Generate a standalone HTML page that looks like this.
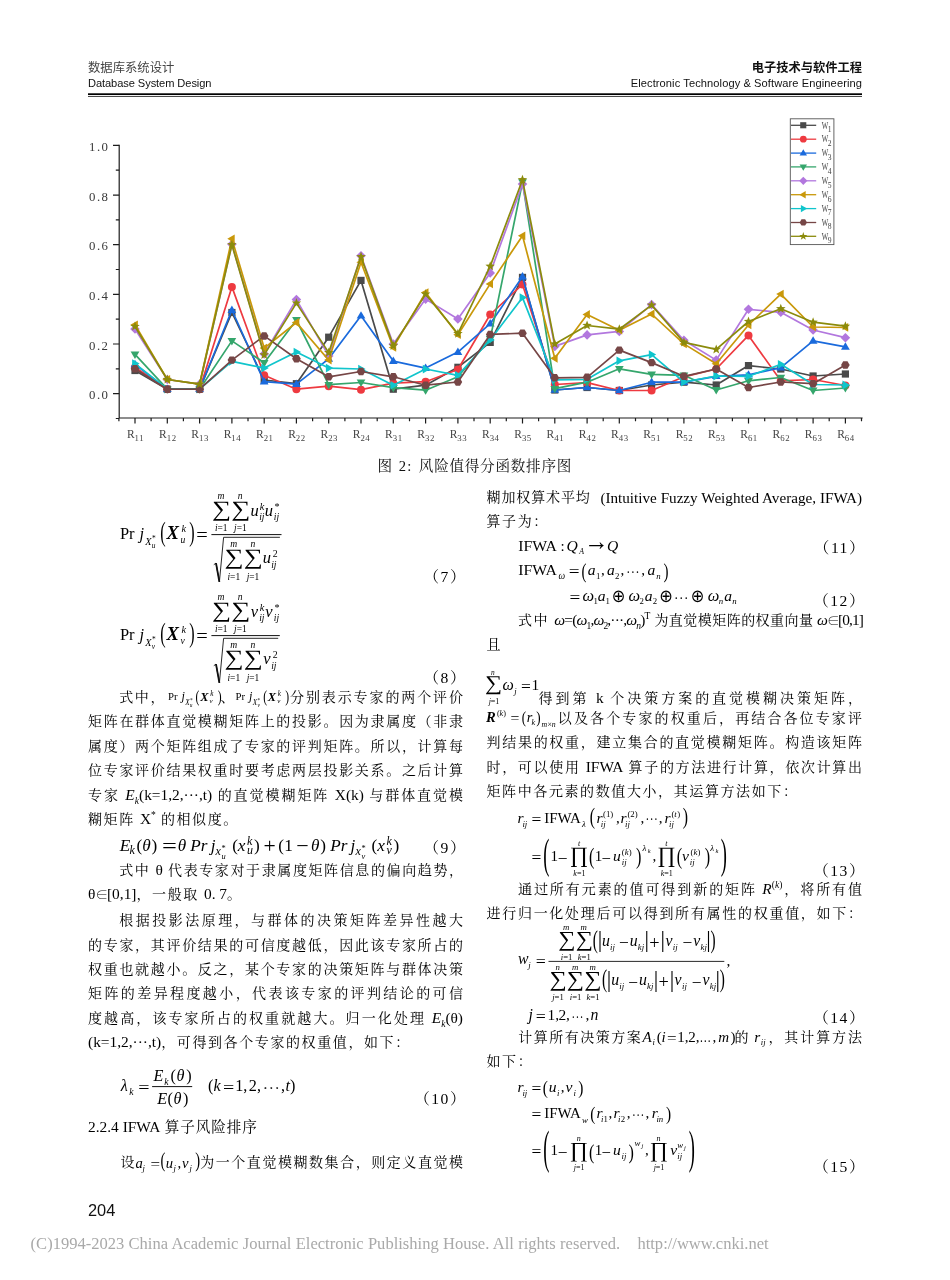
<!DOCTYPE html>
<html lang="zh-CN"><head><meta charset="utf-8"><title>电子技术与软件工程 - 数据库系统设计</title><style>
*{margin:0;padding:0;box-sizing:border-box}
html,body{width:950px;height:1280px;background:#fff;overflow:hidden}
body{position:relative;font-family:"Liberation Serif","Noto Serif CJK SC",serif;color:#000}
.a{position:absolute;white-space:nowrap}
.hs{font-family:"Liberation Sans","Noto Sans CJK SC",sans-serif}
.l{position:absolute;white-space:nowrap;font-size:14.0px;line-height:24px;height:24px;text-align:justify;text-align-last:justify;color:#000}
.l.n{text-align:left;text-align-last:left;letter-spacing:1.6px}
.l *{line-height:0}
.e{font-size:15.4px;letter-spacing:0}
.lc{left:88px;width:375px}
.rc{left:486.5px;width:375.5px}
i,.i{font-style:italic}
.m{position:absolute;white-space:nowrap;font-family:"Liberation Serif","DejaVu Serif",serif;color:#111;line-height:1}
.m i{font-style:italic}
sub,sup{font-size:62%;line-height:0}
.num{position:absolute;white-space:nowrap;font-size:15.6px;line-height:20px;letter-spacing:1.5px}
</style></head><body>

<div class="a hs" style="left:88px;top:60px;font-size:12.35px;line-height:17px;color:#444;font-weight:400">数据库系统设计</div>
<div class="a hs" id="h2" style="left:88px;top:74.5px;font-size:11.1px;line-height:16px;color:#111;letter-spacing:-0.08px">Database System Design</div>
<div class="a hs" style="right:88px;top:60px;font-size:12.25px;line-height:17px;color:#111;font-weight:700">电子技术与软件工程</div>
<div class="a hs" id="h4" style="right:88px;top:74.5px;font-size:11.1px;line-height:16px;color:#111;letter-spacing:0.09px">Electronic Technology &amp; Software Engineering</div>
<svg class="a" width="950" height="110" viewBox="0 0 950 110" style="left:0;top:0"><rect x="88" y="93.3" width="774" height="1.75" fill="#000"/><rect x="88" y="96.0" width="774" height="1.0" fill="#4a4a4a"/></svg>

<svg class="chart" width="950" height="480" viewBox="0 0 950 480" style="position:absolute;left:0;top:0">
<g stroke="#1c1c1c" stroke-width="1.2" fill="none" stroke-linecap="butt">
<path d="M119.2 144.8V418.6M118.6 418H862.6"/>
<path d="M115.8 418.5H119.2M113.0 393.7H119.2M115.8 368.9H119.2M113.0 344.0H119.2M115.8 319.2H119.2M113.0 294.4H119.2M115.8 269.5H119.2M113.0 244.7H119.2M115.8 219.9H119.2M113.0 195.1H119.2M115.8 170.2H119.2M113.0 145.4H119.2M118.9 418V421.2M135.0 418V423.6M151.1 418V421.2M167.3 418V423.6M183.4 418V421.2M199.6 418V423.6M215.7 418V421.2M231.9 418V423.6M248.0 418V421.2M264.2 418V423.6M280.3 418V421.2M296.4 418V423.6M312.6 418V421.2M328.7 418V423.6M344.9 418V421.2M361.0 418V423.6M377.2 418V421.2M393.3 418V423.6M409.5 418V421.2M425.6 418V423.6M441.8 418V421.2M457.9 418V423.6M474.0 418V421.2M490.2 418V423.6M506.3 418V421.2M522.5 418V423.6M538.6 418V421.2M554.8 418V423.6M570.9 418V421.2M587.1 418V423.6M603.2 418V421.2M619.3 418V423.6M635.5 418V421.2M651.6 418V423.6M667.8 418V421.2M683.9 418V423.6M700.1 418V421.2M716.2 418V423.6M732.4 418V421.2M748.5 418V423.6M764.7 418V421.2M780.8 418V423.6M796.9 418V421.2M813.1 418V423.6M829.2 418V421.2M845.4 418V423.6M861.5 418V421.2"/>
</g>
<polyline points="135.0,370.5 167.3,389.2 199.6,389.2 231.9,312.5 264.2,380.0 296.4,383.7 328.7,337.2 361.0,280.4 393.3,389.2 425.6,385.2 457.9,367.3 490.2,342.4 522.5,277.4 554.8,390.0 587.1,387.5 619.3,390.5 651.6,385.0 683.9,382.2 716.2,385.0 748.5,365.6 780.8,369.0 813.1,376.0 845.4,374.0" fill="none" stroke="#4a4a4a" stroke-width="1.7" stroke-linejoin="round"/>
<rect x="131.4" y="366.9" width="7.2" height="7.2" fill="#4a4a4a"/><rect x="163.7" y="385.6" width="7.2" height="7.2" fill="#4a4a4a"/><rect x="196.0" y="385.6" width="7.2" height="7.2" fill="#4a4a4a"/><rect x="228.3" y="308.9" width="7.2" height="7.2" fill="#4a4a4a"/><rect x="260.6" y="376.4" width="7.2" height="7.2" fill="#4a4a4a"/><rect x="292.8" y="380.1" width="7.2" height="7.2" fill="#4a4a4a"/><rect x="325.1" y="333.6" width="7.2" height="7.2" fill="#4a4a4a"/><rect x="357.4" y="276.8" width="7.2" height="7.2" fill="#4a4a4a"/><rect x="389.7" y="385.6" width="7.2" height="7.2" fill="#4a4a4a"/><rect x="422.0" y="381.6" width="7.2" height="7.2" fill="#4a4a4a"/><rect x="454.3" y="363.7" width="7.2" height="7.2" fill="#4a4a4a"/><rect x="486.6" y="338.8" width="7.2" height="7.2" fill="#4a4a4a"/><rect x="518.9" y="273.8" width="7.2" height="7.2" fill="#4a4a4a"/><rect x="551.2" y="386.4" width="7.2" height="7.2" fill="#4a4a4a"/><rect x="583.5" y="383.9" width="7.2" height="7.2" fill="#4a4a4a"/><rect x="615.7" y="386.9" width="7.2" height="7.2" fill="#4a4a4a"/><rect x="648.0" y="381.4" width="7.2" height="7.2" fill="#4a4a4a"/><rect x="680.3" y="378.6" width="7.2" height="7.2" fill="#4a4a4a"/><rect x="712.6" y="381.4" width="7.2" height="7.2" fill="#4a4a4a"/><rect x="744.9" y="362.0" width="7.2" height="7.2" fill="#4a4a4a"/><rect x="777.2" y="365.4" width="7.2" height="7.2" fill="#4a4a4a"/><rect x="809.5" y="372.4" width="7.2" height="7.2" fill="#4a4a4a"/><rect x="841.8" y="370.4" width="7.2" height="7.2" fill="#4a4a4a"/>
<polyline points="135.0,367.3 167.3,389.2 199.6,389.2 231.9,286.9 264.2,375.3 296.4,389.2 328.7,386.2 361.0,389.7 393.3,383.2 425.6,381.7 457.9,369.5 490.2,314.5 522.5,284.4 554.8,384.5 587.1,382.7 619.3,390.5 651.6,390.5 683.9,376.8 716.2,369.0 748.5,335.4 780.8,380.8 813.1,379.5 845.4,385.5" fill="none" stroke="#ee3a40" stroke-width="1.7" stroke-linejoin="round"/>
<circle cx="135.0" cy="367.3" r="4.0" fill="#ee3a40"/><circle cx="167.3" cy="389.2" r="4.0" fill="#ee3a40"/><circle cx="199.6" cy="389.2" r="4.0" fill="#ee3a40"/><circle cx="231.9" cy="286.9" r="4.0" fill="#ee3a40"/><circle cx="264.2" cy="375.3" r="4.0" fill="#ee3a40"/><circle cx="296.4" cy="389.2" r="4.0" fill="#ee3a40"/><circle cx="328.7" cy="386.2" r="4.0" fill="#ee3a40"/><circle cx="361.0" cy="389.7" r="4.0" fill="#ee3a40"/><circle cx="393.3" cy="383.2" r="4.0" fill="#ee3a40"/><circle cx="425.6" cy="381.7" r="4.0" fill="#ee3a40"/><circle cx="457.9" cy="369.5" r="4.0" fill="#ee3a40"/><circle cx="490.2" cy="314.5" r="4.0" fill="#ee3a40"/><circle cx="522.5" cy="284.4" r="4.0" fill="#ee3a40"/><circle cx="554.8" cy="384.5" r="4.0" fill="#ee3a40"/><circle cx="587.1" cy="382.7" r="4.0" fill="#ee3a40"/><circle cx="619.3" cy="390.5" r="4.0" fill="#ee3a40"/><circle cx="651.6" cy="390.5" r="4.0" fill="#ee3a40"/><circle cx="683.9" cy="376.8" r="4.0" fill="#ee3a40"/><circle cx="716.2" cy="369.0" r="4.0" fill="#ee3a40"/><circle cx="748.5" cy="335.4" r="4.0" fill="#ee3a40"/><circle cx="780.8" cy="380.8" r="4.0" fill="#ee3a40"/><circle cx="813.1" cy="379.5" r="4.0" fill="#ee3a40"/><circle cx="845.4" cy="385.5" r="4.0" fill="#ee3a40"/>
<polyline points="135.0,364.3 167.3,389.2 199.6,389.2 231.9,310.0 264.2,381.7 296.4,384.2 328.7,358.8 361.0,315.8 393.3,361.1 425.6,368.1 457.9,352.1 490.2,323.7 522.5,276.7 554.8,390.0 587.1,387.5 619.3,390.5 651.6,382.2 683.9,382.2 716.2,376.3 748.5,374.8 780.8,367.6 813.1,340.9 845.4,346.9" fill="none" stroke="#1a6adc" stroke-width="1.7" stroke-linejoin="round"/>
<polygon points="135.0,359.7 139.4,367.2 130.6,367.2" fill="#1a6adc"/><polygon points="167.3,384.6 171.7,392.1 162.9,392.1" fill="#1a6adc"/><polygon points="199.6,384.6 203.9,392.1 195.2,392.1" fill="#1a6adc"/><polygon points="231.9,305.4 236.2,312.9 227.5,312.9" fill="#1a6adc"/><polygon points="264.2,377.1 268.5,384.6 259.8,384.6" fill="#1a6adc"/><polygon points="296.4,379.6 300.8,387.1 292.1,387.1" fill="#1a6adc"/><polygon points="328.7,354.2 333.1,361.7 324.4,361.7" fill="#1a6adc"/><polygon points="361.0,311.2 365.4,318.6 356.7,318.6" fill="#1a6adc"/><polygon points="393.3,356.5 397.7,363.9 388.9,363.9" fill="#1a6adc"/><polygon points="425.6,363.5 430.0,370.9 421.2,370.9" fill="#1a6adc"/><polygon points="457.9,347.5 462.3,355.0 453.5,355.0" fill="#1a6adc"/><polygon points="490.2,319.1 494.6,326.6 485.8,326.6" fill="#1a6adc"/><polygon points="522.5,272.1 526.9,279.5 518.1,279.5" fill="#1a6adc"/><polygon points="554.8,385.4 559.1,392.8 550.4,392.8" fill="#1a6adc"/><polygon points="587.1,382.9 591.4,390.3 582.7,390.3" fill="#1a6adc"/><polygon points="619.3,385.9 623.7,393.3 615.0,393.3" fill="#1a6adc"/><polygon points="651.6,377.6 656.0,385.1 647.3,385.1" fill="#1a6adc"/><polygon points="683.9,377.6 688.3,385.1 679.6,385.1" fill="#1a6adc"/><polygon points="716.2,371.7 720.6,379.1 711.9,379.1" fill="#1a6adc"/><polygon points="748.5,370.2 752.9,377.6 744.1,377.6" fill="#1a6adc"/><polygon points="780.8,363.0 785.2,370.4 776.4,370.4" fill="#1a6adc"/><polygon points="813.1,336.3 817.5,343.8 808.7,343.8" fill="#1a6adc"/><polygon points="845.4,342.3 849.8,349.7 841.0,349.7" fill="#1a6adc"/>
<polyline points="135.0,354.4 167.3,389.2 199.6,389.2 231.9,340.9 264.2,362.8 296.4,320.0 328.7,384.7 361.0,382.5 393.3,387.7 425.6,390.2 457.9,376.8 490.2,338.9 522.5,182.0 554.8,388.7 587.1,382.2 619.3,368.8 651.6,374.3 683.9,375.3 716.2,390.0 748.5,380.8 780.8,377.5 813.1,390.5 845.4,388.0" fill="none" stroke="#35a66c" stroke-width="1.7" stroke-linejoin="round"/>
<polygon points="135.0,359.0 139.4,351.5 130.6,351.5" fill="#35a66c"/><polygon points="167.3,393.8 171.7,386.4 162.9,386.4" fill="#35a66c"/><polygon points="199.6,393.8 203.9,386.4 195.2,386.4" fill="#35a66c"/><polygon points="231.9,345.5 236.2,338.1 227.5,338.1" fill="#35a66c"/><polygon points="264.2,367.4 268.5,360.0 259.8,360.0" fill="#35a66c"/><polygon points="296.4,324.6 300.8,317.1 292.1,317.1" fill="#35a66c"/><polygon points="328.7,389.3 333.1,381.9 324.4,381.9" fill="#35a66c"/><polygon points="361.0,387.1 365.4,379.6 356.7,379.6" fill="#35a66c"/><polygon points="393.3,392.3 397.7,384.9 388.9,384.9" fill="#35a66c"/><polygon points="425.6,394.8 430.0,387.4 421.2,387.4" fill="#35a66c"/><polygon points="457.9,381.4 462.3,373.9 453.5,373.9" fill="#35a66c"/><polygon points="490.2,343.5 494.6,336.1 485.8,336.1" fill="#35a66c"/><polygon points="522.5,186.6 526.9,179.2 518.1,179.2" fill="#35a66c"/><polygon points="554.8,393.3 559.1,385.9 550.4,385.9" fill="#35a66c"/><polygon points="587.1,386.8 591.4,379.4 582.7,379.4" fill="#35a66c"/><polygon points="619.3,373.4 623.7,365.9 615.0,365.9" fill="#35a66c"/><polygon points="651.6,378.9 656.0,371.4 647.3,371.4" fill="#35a66c"/><polygon points="683.9,379.9 688.3,372.4 679.6,372.4" fill="#35a66c"/><polygon points="716.2,394.6 720.6,387.1 711.9,387.1" fill="#35a66c"/><polygon points="748.5,385.4 752.9,377.9 744.1,377.9" fill="#35a66c"/><polygon points="780.8,382.1 785.2,374.7 776.4,374.7" fill="#35a66c"/><polygon points="813.1,395.1 817.5,387.6 808.7,387.6" fill="#35a66c"/><polygon points="845.4,392.6 849.8,385.1 841.0,385.1" fill="#35a66c"/>
<polyline points="135.0,329.0 167.3,379.5 199.6,384.2 231.9,244.3 264.2,353.9 296.4,299.6 328.7,355.9 361.0,255.8 393.3,344.1 425.6,299.1 457.9,319.0 490.2,272.9 522.5,184.0 554.8,346.4 587.1,334.9 619.3,331.4 651.6,304.6 683.9,340.2 716.2,360.1 748.5,309.3 780.8,312.3 813.1,330.0 845.4,337.7" fill="none" stroke="#b277de" stroke-width="1.7" stroke-linejoin="round"/>
<polygon points="135.0,324.2 139.8,329.0 135.0,333.8 130.2,329.0" fill="#b277de"/><polygon points="167.3,374.7 172.1,379.5 167.3,384.3 162.5,379.5" fill="#b277de"/><polygon points="199.6,379.4 204.4,384.2 199.6,389.0 194.8,384.2" fill="#b277de"/><polygon points="231.9,239.5 236.7,244.3 231.9,249.1 227.1,244.3" fill="#b277de"/><polygon points="264.2,349.1 269.0,353.9 264.2,358.7 259.4,353.9" fill="#b277de"/><polygon points="296.4,294.8 301.2,299.6 296.4,304.4 291.6,299.6" fill="#b277de"/><polygon points="328.7,351.1 333.5,355.9 328.7,360.7 323.9,355.9" fill="#b277de"/><polygon points="361.0,251.0 365.8,255.8 361.0,260.6 356.2,255.8" fill="#b277de"/><polygon points="393.3,339.3 398.1,344.1 393.3,348.9 388.5,344.1" fill="#b277de"/><polygon points="425.6,294.3 430.4,299.1 425.6,303.9 420.8,299.1" fill="#b277de"/><polygon points="457.9,314.2 462.7,319.0 457.9,323.8 453.1,319.0" fill="#b277de"/><polygon points="490.2,268.1 495.0,272.9 490.2,277.7 485.4,272.9" fill="#b277de"/><polygon points="522.5,179.2 527.3,184.0 522.5,188.8 517.7,184.0" fill="#b277de"/><polygon points="554.8,341.6 559.6,346.4 554.8,351.2 550.0,346.4" fill="#b277de"/><polygon points="587.1,330.1 591.9,334.9 587.1,339.7 582.3,334.9" fill="#b277de"/><polygon points="619.3,326.6 624.1,331.4 619.3,336.2 614.5,331.4" fill="#b277de"/><polygon points="651.6,299.8 656.4,304.6 651.6,309.4 646.8,304.6" fill="#b277de"/><polygon points="683.9,335.4 688.7,340.2 683.9,345.0 679.1,340.2" fill="#b277de"/><polygon points="716.2,355.3 721.0,360.1 716.2,364.9 711.4,360.1" fill="#b277de"/><polygon points="748.5,304.5 753.3,309.3 748.5,314.1 743.7,309.3" fill="#b277de"/><polygon points="780.8,307.5 785.6,312.3 780.8,317.1 776.0,312.3" fill="#b277de"/><polygon points="813.1,325.2 817.9,330.0 813.1,334.8 808.3,330.0" fill="#b277de"/><polygon points="845.4,332.9 850.2,337.7 845.4,342.5 840.6,337.7" fill="#b277de"/>
<polyline points="135.0,324.7 167.3,379.5 199.6,384.2 231.9,238.8 264.2,348.1 296.4,322.5 328.7,360.1 361.0,262.2 393.3,347.4 425.6,292.6 457.9,334.7 490.2,283.9 522.5,235.8 554.8,358.3 587.1,314.5 619.3,330.2 651.6,314.0 683.9,343.9 716.2,363.8 748.5,325.0 780.8,294.1 813.1,327.0 845.4,327.5" fill="none" stroke="#c9980a" stroke-width="1.7" stroke-linejoin="round"/>
<polygon points="130.4,324.7 137.9,320.4 137.9,329.1" fill="#c9980a"/><polygon points="162.7,379.5 170.1,375.1 170.1,383.9" fill="#c9980a"/><polygon points="195.0,384.2 202.4,379.9 202.4,388.6" fill="#c9980a"/><polygon points="227.3,238.8 234.7,234.5 234.7,243.2" fill="#c9980a"/><polygon points="259.6,348.1 267.0,343.8 267.0,352.5" fill="#c9980a"/><polygon points="291.8,322.5 299.3,318.1 299.3,326.9" fill="#c9980a"/><polygon points="324.1,360.1 331.6,355.7 331.6,364.5" fill="#c9980a"/><polygon points="356.4,262.2 363.9,257.9 363.9,266.6" fill="#c9980a"/><polygon points="388.7,347.4 396.2,343.0 396.2,351.8" fill="#c9980a"/><polygon points="421.0,292.6 428.5,288.2 428.5,297.0" fill="#c9980a"/><polygon points="453.3,334.7 460.8,330.3 460.8,339.1" fill="#c9980a"/><polygon points="485.6,283.9 493.0,279.5 493.0,288.3" fill="#c9980a"/><polygon points="517.9,235.8 525.3,231.5 525.3,240.2" fill="#c9980a"/><polygon points="550.2,358.3 557.6,354.0 557.6,362.7" fill="#c9980a"/><polygon points="582.5,314.5 589.9,310.1 589.9,318.9" fill="#c9980a"/><polygon points="614.7,330.2 622.2,325.8 622.2,334.6" fill="#c9980a"/><polygon points="647.0,314.0 654.5,309.6 654.5,318.4" fill="#c9980a"/><polygon points="679.3,343.9 686.8,339.5 686.8,348.3" fill="#c9980a"/><polygon points="711.6,363.8 719.1,359.4 719.1,368.2" fill="#c9980a"/><polygon points="743.9,325.0 751.4,320.6 751.4,329.3" fill="#c9980a"/><polygon points="776.2,294.1 783.7,289.7 783.7,298.5" fill="#c9980a"/><polygon points="808.5,327.0 815.9,322.6 815.9,331.3" fill="#c9980a"/><polygon points="840.8,327.5 848.2,323.1 848.2,331.8" fill="#c9980a"/>
<polyline points="135.0,363.6 167.3,389.2 199.6,389.2 231.9,361.3 264.2,368.1 296.4,352.1 328.7,368.1 361.0,369.0 393.3,385.2 425.6,369.0 457.9,375.3 490.2,339.9 522.5,297.6 554.8,379.8 587.1,379.3 619.3,360.8 651.6,354.6 683.9,382.0 716.2,376.0 748.5,376.3 780.8,364.3 813.1,384.5 845.4,385.0" fill="none" stroke="#10c5cc" stroke-width="1.7" stroke-linejoin="round"/>
<polygon points="139.6,363.6 132.1,359.2 132.1,367.9" fill="#10c5cc"/><polygon points="171.9,389.2 164.4,384.8 164.4,393.6" fill="#10c5cc"/><polygon points="204.2,389.2 196.7,384.8 196.7,393.6" fill="#10c5cc"/><polygon points="236.5,361.3 229.0,357.0 229.0,365.7" fill="#10c5cc"/><polygon points="268.8,368.1 261.3,363.7 261.3,372.4" fill="#10c5cc"/><polygon points="301.1,352.1 293.6,347.7 293.6,356.5" fill="#10c5cc"/><polygon points="333.3,368.1 325.9,363.7 325.9,372.4" fill="#10c5cc"/><polygon points="365.6,369.0 358.2,364.7 358.2,373.4" fill="#10c5cc"/><polygon points="397.9,385.2 390.5,380.9 390.5,389.6" fill="#10c5cc"/><polygon points="430.2,369.0 422.8,364.7 422.8,373.4" fill="#10c5cc"/><polygon points="462.5,375.3 455.0,370.9 455.0,379.6" fill="#10c5cc"/><polygon points="494.8,339.9 487.3,335.5 487.3,344.3" fill="#10c5cc"/><polygon points="527.1,297.6 519.6,293.2 519.6,302.0" fill="#10c5cc"/><polygon points="559.4,379.8 551.9,375.4 551.9,384.1" fill="#10c5cc"/><polygon points="591.7,379.3 584.2,374.9 584.2,383.6" fill="#10c5cc"/><polygon points="623.9,360.8 616.5,356.5 616.5,365.2" fill="#10c5cc"/><polygon points="656.2,354.6 648.8,350.2 648.8,359.0" fill="#10c5cc"/><polygon points="688.5,382.0 681.1,377.6 681.1,386.4" fill="#10c5cc"/><polygon points="720.8,376.0 713.4,371.7 713.4,380.4" fill="#10c5cc"/><polygon points="753.1,376.3 745.7,371.9 745.7,380.6" fill="#10c5cc"/><polygon points="785.4,364.3 777.9,359.9 777.9,368.7" fill="#10c5cc"/><polygon points="817.7,384.5 810.2,380.1 810.2,388.9" fill="#10c5cc"/><polygon points="850.0,385.0 842.5,380.6 842.5,389.4" fill="#10c5cc"/>
<polyline points="135.0,368.8 167.3,389.2 199.6,389.2 231.9,360.1 264.2,335.9 296.4,358.8 328.7,376.8 361.0,371.5 393.3,376.8 425.6,385.2 457.9,382.0 490.2,334.4 522.5,333.2 554.8,377.8 587.1,377.3 619.3,350.1 651.6,362.6 683.9,376.3 716.2,369.0 748.5,387.5 780.8,382.0 813.1,383.7 845.4,365.1" fill="none" stroke="#764646" stroke-width="1.7" stroke-linejoin="round"/>
<polygon points="139.3,368.8 137.2,372.5 132.8,372.5 130.7,368.8 132.8,365.1 137.2,365.1" fill="#764646"/><polygon points="171.6,389.2 169.4,392.9 165.1,392.9 163.0,389.2 165.1,385.5 169.4,385.5" fill="#764646"/><polygon points="203.9,389.2 201.7,392.9 197.4,392.9 195.3,389.2 197.4,385.5 201.7,385.5" fill="#764646"/><polygon points="236.2,360.1 234.0,363.8 229.7,363.8 227.6,360.1 229.7,356.4 234.0,356.4" fill="#764646"/><polygon points="268.5,335.9 266.3,339.7 262.0,339.7 259.9,335.9 262.0,332.2 266.3,332.2" fill="#764646"/><polygon points="300.8,358.8 298.6,362.6 294.3,362.6 292.1,358.8 294.3,355.1 298.6,355.1" fill="#764646"/><polygon points="333.0,376.8 330.9,380.5 326.6,380.5 324.4,376.8 326.6,373.0 330.9,373.0" fill="#764646"/><polygon points="365.3,371.5 363.2,375.3 358.9,375.3 356.7,371.5 358.9,367.8 363.2,367.8" fill="#764646"/><polygon points="397.6,376.8 395.5,380.5 391.2,380.5 389.0,376.8 391.2,373.0 395.5,373.0" fill="#764646"/><polygon points="429.9,385.2 427.8,389.0 423.5,389.0 421.3,385.2 423.5,381.5 427.8,381.5" fill="#764646"/><polygon points="462.2,382.0 460.0,385.7 455.8,385.7 453.6,382.0 455.8,378.3 460.0,378.3" fill="#764646"/><polygon points="494.5,334.4 492.3,338.2 488.0,338.2 485.9,334.4 488.0,330.7 492.3,330.7" fill="#764646"/><polygon points="526.8,333.2 524.6,336.9 520.3,336.9 518.2,333.2 520.3,329.5 524.6,329.5" fill="#764646"/><polygon points="559.1,377.8 556.9,381.5 552.6,381.5 550.5,377.8 552.6,374.0 556.9,374.0" fill="#764646"/><polygon points="591.4,377.3 589.2,381.0 584.9,381.0 582.8,377.3 584.9,373.5 589.2,373.5" fill="#764646"/><polygon points="623.6,350.1 621.5,353.8 617.2,353.8 615.0,350.1 617.2,346.4 621.5,346.4" fill="#764646"/><polygon points="655.9,362.6 653.8,366.3 649.5,366.3 647.3,362.6 649.5,358.9 653.8,358.9" fill="#764646"/><polygon points="688.2,376.3 686.1,380.0 681.8,380.0 679.6,376.3 681.8,372.5 686.1,372.5" fill="#764646"/><polygon points="720.5,369.0 718.4,372.8 714.1,372.8 711.9,369.0 714.1,365.3 718.4,365.3" fill="#764646"/><polygon points="752.8,387.5 750.7,391.2 746.4,391.2 744.2,387.5 746.4,383.8 750.7,383.8" fill="#764646"/><polygon points="785.1,382.0 782.9,385.7 778.6,385.7 776.5,382.0 778.6,378.3 782.9,378.3" fill="#764646"/><polygon points="817.4,383.7 815.2,387.5 810.9,387.5 808.8,383.7 810.9,380.0 815.2,380.0" fill="#764646"/><polygon points="849.7,365.1 847.5,368.8 843.2,368.8 841.1,365.1 843.2,361.3 847.5,361.3" fill="#764646"/>
<polyline points="135.0,326.5 167.3,379.5 199.6,384.2 231.9,244.8 264.2,354.9 296.4,303.1 328.7,352.6 361.0,256.8 393.3,345.9 425.6,294.1 457.9,333.7 490.2,266.2 522.5,179.8 554.8,343.9 587.1,325.5 619.3,329.2 651.6,305.1 683.9,342.4 716.2,349.4 748.5,321.5 780.8,308.8 813.1,322.2 845.4,326.2" fill="none" stroke="#8b8b0c" stroke-width="1.7" stroke-linejoin="round"/>
<polygon points="135.0,321.5 136.2,324.8 139.8,324.9 137.0,327.1 137.9,330.5 135.0,328.6 132.1,330.5 133.0,327.1 130.2,324.9 133.8,324.8" fill="#8b8b0c"/><polygon points="167.3,374.5 168.5,377.8 172.0,378.0 169.3,380.2 170.2,383.6 167.3,381.6 164.4,383.6 165.3,380.2 162.5,378.0 166.1,377.8" fill="#8b8b0c"/><polygon points="199.6,379.2 200.8,382.5 204.3,382.7 201.6,384.9 202.5,388.3 199.6,386.3 196.6,388.3 197.6,384.9 194.8,382.7 198.3,382.5" fill="#8b8b0c"/><polygon points="231.9,239.8 233.1,243.1 236.6,243.3 233.9,245.4 234.8,248.8 231.9,246.9 228.9,248.8 229.9,245.4 227.1,243.3 230.6,243.1" fill="#8b8b0c"/><polygon points="264.2,349.9 265.4,353.2 268.9,353.3 266.2,355.5 267.1,358.9 264.2,357.0 261.2,358.9 262.2,355.5 259.4,353.3 262.9,353.2" fill="#8b8b0c"/><polygon points="296.4,298.1 297.7,301.4 301.2,301.5 298.4,303.7 299.4,307.1 296.4,305.2 293.5,307.1 294.5,303.7 291.7,301.5 295.2,301.4" fill="#8b8b0c"/><polygon points="328.7,347.6 330.0,350.9 333.5,351.1 330.7,353.3 331.7,356.7 328.7,354.7 325.8,356.7 326.7,353.3 324.0,351.1 327.5,350.9" fill="#8b8b0c"/><polygon points="361.0,251.8 362.3,255.1 365.8,255.2 363.0,257.4 364.0,260.8 361.0,258.9 358.1,260.8 359.0,257.4 356.3,255.2 359.8,255.1" fill="#8b8b0c"/><polygon points="393.3,340.9 394.6,344.2 398.1,344.3 395.3,346.5 396.3,349.9 393.3,348.0 390.4,349.9 391.3,346.5 388.6,344.3 392.1,344.2" fill="#8b8b0c"/><polygon points="425.6,289.1 426.8,292.4 430.4,292.6 427.6,294.7 428.5,298.1 425.6,296.2 422.7,298.1 423.6,294.7 420.9,292.6 424.4,292.4" fill="#8b8b0c"/><polygon points="457.9,328.7 459.1,332.0 462.7,332.1 459.9,334.3 460.8,337.7 457.9,335.8 455.0,337.7 455.9,334.3 453.1,332.1 456.7,332.0" fill="#8b8b0c"/><polygon points="490.2,261.2 491.4,264.5 494.9,264.7 492.2,266.9 493.1,270.3 490.2,268.3 487.3,270.3 488.2,266.9 485.4,264.7 489.0,264.5" fill="#8b8b0c"/><polygon points="522.5,174.8 523.7,178.1 527.2,178.3 524.5,180.5 525.4,183.9 522.5,181.9 519.5,183.9 520.5,180.5 517.7,178.3 521.2,178.1" fill="#8b8b0c"/><polygon points="554.8,338.9 556.0,342.2 559.5,342.4 556.8,344.5 557.7,347.9 554.8,346.0 551.8,347.9 552.8,344.5 550.0,342.4 553.5,342.2" fill="#8b8b0c"/><polygon points="587.1,320.5 588.3,323.8 591.8,323.9 589.1,326.1 590.0,329.5 587.1,327.6 584.1,329.5 585.1,326.1 582.3,323.9 585.8,323.8" fill="#8b8b0c"/><polygon points="619.3,324.2 620.6,327.5 624.1,327.7 621.3,329.9 622.3,333.3 619.3,331.3 616.4,333.3 617.4,329.9 614.6,327.7 618.1,327.5" fill="#8b8b0c"/><polygon points="651.6,300.1 652.9,303.4 656.4,303.5 653.6,305.7 654.6,309.1 651.6,307.2 648.7,309.1 649.6,305.7 646.9,303.5 650.4,303.4" fill="#8b8b0c"/><polygon points="683.9,337.4 685.2,340.7 688.7,340.9 685.9,343.1 686.9,346.5 683.9,344.5 681.0,346.5 681.9,343.1 679.2,340.9 682.7,340.7" fill="#8b8b0c"/><polygon points="716.2,344.4 717.5,347.7 721.0,347.8 718.2,350.0 719.2,353.4 716.2,351.5 713.3,353.4 714.2,350.0 711.5,347.8 715.0,347.7" fill="#8b8b0c"/><polygon points="748.5,316.5 749.7,319.8 753.3,319.9 750.5,322.1 751.4,325.5 748.5,323.6 745.6,325.5 746.5,322.1 743.8,319.9 747.3,319.8" fill="#8b8b0c"/><polygon points="780.8,303.8 782.0,307.1 785.6,307.2 782.8,309.4 783.7,312.8 780.8,310.9 777.9,312.8 778.8,309.4 776.0,307.2 779.6,307.1" fill="#8b8b0c"/><polygon points="813.1,317.2 814.3,320.5 817.8,320.7 815.1,322.9 816.0,326.3 813.1,324.3 810.2,326.3 811.1,322.9 808.3,320.7 811.9,320.5" fill="#8b8b0c"/><polygon points="845.4,321.2 846.6,324.5 850.1,324.7 847.4,326.9 848.3,330.3 845.4,328.3 842.4,330.3 843.4,326.9 840.6,324.7 844.1,324.5" fill="#8b8b0c"/>
<g font-family="'Liberation Serif','Noto Serif CJK SC',serif" font-size="12.8" fill="#3a3a3a" letter-spacing="1.5">
<text x="89" y="399.3">0.0</text>
<text x="89" y="349.6">0.2</text>
<text x="89" y="300.0">0.4</text>
<text x="89" y="250.3">0.6</text>
<text x="89" y="200.7">0.8</text>
<text x="89" y="151.0">1.0</text>
</g>
<g font-family="'Liberation Serif','Noto Serif CJK SC',serif" font-size="11.5" fill="#444" text-anchor="middle">
<text x="135.5" y="438">R<tspan font-size="8.8" dy="3" letter-spacing="0.5">11</tspan></text>
<text x="167.8" y="438">R<tspan font-size="8.8" dy="3" letter-spacing="0.5">12</tspan></text>
<text x="200.1" y="438">R<tspan font-size="8.8" dy="3" letter-spacing="0.5">13</tspan></text>
<text x="232.4" y="438">R<tspan font-size="8.8" dy="3" letter-spacing="0.5">14</tspan></text>
<text x="264.7" y="438">R<tspan font-size="8.8" dy="3" letter-spacing="0.5">21</tspan></text>
<text x="296.9" y="438">R<tspan font-size="8.8" dy="3" letter-spacing="0.5">22</tspan></text>
<text x="329.2" y="438">R<tspan font-size="8.8" dy="3" letter-spacing="0.5">23</tspan></text>
<text x="361.5" y="438">R<tspan font-size="8.8" dy="3" letter-spacing="0.5">24</tspan></text>
<text x="393.8" y="438">R<tspan font-size="8.8" dy="3" letter-spacing="0.5">31</tspan></text>
<text x="426.1" y="438">R<tspan font-size="8.8" dy="3" letter-spacing="0.5">32</tspan></text>
<text x="458.4" y="438">R<tspan font-size="8.8" dy="3" letter-spacing="0.5">33</tspan></text>
<text x="490.7" y="438">R<tspan font-size="8.8" dy="3" letter-spacing="0.5">34</tspan></text>
<text x="523.0" y="438">R<tspan font-size="8.8" dy="3" letter-spacing="0.5">35</tspan></text>
<text x="555.3" y="438">R<tspan font-size="8.8" dy="3" letter-spacing="0.5">41</tspan></text>
<text x="587.6" y="438">R<tspan font-size="8.8" dy="3" letter-spacing="0.5">42</tspan></text>
<text x="619.8" y="438">R<tspan font-size="8.8" dy="3" letter-spacing="0.5">43</tspan></text>
<text x="652.1" y="438">R<tspan font-size="8.8" dy="3" letter-spacing="0.5">51</tspan></text>
<text x="684.4" y="438">R<tspan font-size="8.8" dy="3" letter-spacing="0.5">52</tspan></text>
<text x="716.7" y="438">R<tspan font-size="8.8" dy="3" letter-spacing="0.5">53</tspan></text>
<text x="749.0" y="438">R<tspan font-size="8.8" dy="3" letter-spacing="0.5">61</tspan></text>
<text x="781.3" y="438">R<tspan font-size="8.8" dy="3" letter-spacing="0.5">62</tspan></text>
<text x="813.6" y="438">R<tspan font-size="8.8" dy="3" letter-spacing="0.5">63</tspan></text>
<text x="845.9" y="438">R<tspan font-size="8.8" dy="3" letter-spacing="0.5">64</tspan></text>
</g>
<rect x="790.3" y="118.8" width="43.6" height="125.8" fill="#fff" stroke="#555" stroke-width="0.9"/>
<g font-family="'Liberation Serif','Noto Serif CJK SC',serif" font-size="10" fill="#444">
<path d="M791 125.3H816.2" stroke="#4a4a4a" stroke-width="1.3"/><rect x="800.2" y="122.2" width="6.1" height="6.1" fill="#4a4a4a"/>
<text x="821.8" y="128.5" textLength="6.5" lengthAdjust="spacingAndGlyphs">W</text><text x="827.8" y="132.1" font-size="7.6">1</text>
<path d="M791 139.2H816.2" stroke="#ee3a40" stroke-width="1.3"/><circle cx="803.3" cy="139.2" r="3.4" fill="#ee3a40"/>
<text x="821.8" y="142.4" textLength="6.5" lengthAdjust="spacingAndGlyphs">W</text><text x="827.8" y="146.0" font-size="7.6">2</text>
<path d="M791 153.1H816.2" stroke="#1a6adc" stroke-width="1.3"/><polygon points="803.3,149.2 807.0,155.5 799.6,155.5" fill="#1a6adc"/>
<text x="821.8" y="156.3" textLength="6.5" lengthAdjust="spacingAndGlyphs">W</text><text x="827.8" y="159.9" font-size="7.6">3</text>
<path d="M791 166.9H816.2" stroke="#35a66c" stroke-width="1.3"/><polygon points="803.3,170.8 807.0,164.5 799.6,164.5" fill="#35a66c"/>
<text x="821.8" y="170.1" textLength="6.5" lengthAdjust="spacingAndGlyphs">W</text><text x="827.8" y="173.7" font-size="7.6">4</text>
<path d="M791 180.8H816.2" stroke="#b277de" stroke-width="1.3"/><polygon points="803.3,176.7 807.4,180.8 803.3,184.9 799.2,180.8" fill="#b277de"/>
<text x="821.8" y="184.0" textLength="6.5" lengthAdjust="spacingAndGlyphs">W</text><text x="827.8" y="187.6" font-size="7.6">5</text>
<path d="M791 194.7H816.2" stroke="#c9980a" stroke-width="1.3"/><polygon points="799.4,194.7 805.7,191.0 805.7,198.4" fill="#c9980a"/>
<text x="821.8" y="197.9" textLength="6.5" lengthAdjust="spacingAndGlyphs">W</text><text x="827.8" y="201.5" font-size="7.6">6</text>
<path d="M791 208.6H816.2" stroke="#10c5cc" stroke-width="1.3"/><polygon points="807.2,208.6 800.9,204.9 800.9,212.3" fill="#10c5cc"/>
<text x="821.8" y="211.8" textLength="6.5" lengthAdjust="spacingAndGlyphs">W</text><text x="827.8" y="215.4" font-size="7.6">7</text>
<path d="M791 222.5H816.2" stroke="#764646" stroke-width="1.3"/><polygon points="807.0,222.5 805.1,225.6 801.5,225.6 799.6,222.5 801.5,219.3 805.1,219.3" fill="#764646"/>
<text x="821.8" y="225.7" textLength="6.5" lengthAdjust="spacingAndGlyphs">W</text><text x="827.8" y="229.3" font-size="7.6">8</text>
<path d="M791 236.3H816.2" stroke="#8b8b0c" stroke-width="1.3"/><polygon points="803.3,232.1 804.3,234.9 807.3,235.0 805.0,236.9 805.8,239.8 803.3,238.1 800.8,239.8 801.6,236.9 799.3,235.0 802.3,234.9" fill="#8b8b0c"/>
<text x="821.8" y="239.5" textLength="6.5" lengthAdjust="spacingAndGlyphs">W</text><text x="827.8" y="243.1" font-size="7.6">9</text>
</g>
</svg>
<div class="a" id="cap" style="left:377.6px;top:454.6px;font-size:14.6px;line-height:22px;color:#111;letter-spacing:1.4px">图 2:</div><div class="a" id="cap2" style="left:418.8px;top:454.6px;width:152.6px;font-size:14.6px;line-height:22px;text-align:justify;text-align-last:justify;color:#111">风险值得分函数排序图</div>
<div class="l n" style="left:119.2px;top:685.5px">式中，</div>
<div class="l n" style="left:220.6px;top:685.5px">、</div>
<div class="l" style="left:290px;width:173px;top:685.5px">分别表示专家的两个评价</div>
<div class="l lc" style="top:710.0px;">矩阵在群体直觉模糊矩阵上的投影。因为隶属度（非隶</div>
<div class="l lc" style="top:734.5px;">属度）两个矩阵组成了专家的评判矩阵。所以，计算每</div>
<div class="l lc" style="top:759.0px;">位专家评价结果权重时要考虑两层投影关系。之后计算</div>
<div class="l lc" style="top:783.5px;">专家 <span class="e"><i>E<sub>k</sub></i>(k=1,2,···,t)</span> 的直觉模糊矩阵 <span class="e">X(k)</span> 与群体直觉模</div>
<div class="l lc n" style="top:808.0px;">糊矩阵 <span class="e">X<sup>*</sup></span> 的相似度。</div>
<div class="l" style="left:119.2px;width:343.8px;top:858.7px">式中 <span class="e">θ</span> 代表专家对于隶属度矩阵信息的偏向趋势，</div>
<div class="l lc n" style="top:883.3px;"><span class="e">θ<span style="font-size:12.6px;letter-spacing:-1px">∈</span>[0,1]</span>，一般取 <span class="e">0. 7</span>。</div>
<div class="l" style="left:119.2px;width:343.8px;top:909.3px">根据投影法原理，与群体的决策矩阵差异性越大</div>
<div class="l lc" style="top:933.6px;">的专家，其评价结果的可信度越低，因此该专家所占的</div>
<div class="l lc" style="top:957.9px;">权重也就越小。反之，某个专家的决策矩阵与群体决策</div>
<div class="l lc" style="top:982.2px;">矩阵的差异程度越小，代表该专家的评判结论的可信</div>
<div class="l lc" style="top:1006.5px;">度越高，该专家所占的权重就越大。归一化处理 <span class="e"><i>E<sub>k</sub></i>(θ)</span></div>
<div class="l lc n" style="top:1030.8px;"><span class="e">(k=1,2,···,t)</span>，可得到各个专家的权重值，如下：</div>
<div class="l lc n" style="top:1115.3px;font-size:14.6px;letter-spacing:0.9px"><span class="e">2.2.4 IFWA</span> 算子风险排序</div>
<div class="l n" style="left:120.4px;top:1151.1px">设</div>
<div class="l" style="left:200.2px;width:262.8px;top:1151.1px">为一个直觉模糊数集合，则定义直觉模</div>
<div class="num" style="right:483.0px;top:567.3px">（7）</div>
<div class="num" style="right:483.0px;top:667.7px">（8）</div>
<div class="num" style="right:483.0px;top:837.6px">（9）</div>
<div class="num" style="right:483.0px;top:1089.0px">（10）</div>
<svg width="950" height="1280" viewBox="0 0 950 1280" style="position:absolute;left:0;top:0;pointer-events:none" font-family="'Liberation Serif','DejaVu Serif','Noto Serif CJK SC',serif" fill="#000">
<text x="119.9" y="538.7" font-size="16.5">Pr</text><text x="139.6" y="538.7" font-size="16.5" font-style="italic">j</text><text x="145.2" y="544.8" font-size="10.2" font-style="italic">X</text><text x="152.0" y="540.6" font-size="7.4">*</text><text x="151.8" y="547.6" font-size="7.4" font-style="italic">u</text><text transform="translate(160.15,541.47) scale(0.613,1)" font-size="26.33">(</text><text x="166.4" y="539.4" font-size="18.6" font-style="italic" font-weight="700">X</text><text x="181.4" y="532.4" font-size="10.2" font-style="italic">k</text><text x="180.4" y="543.2" font-size="9.6" font-style="italic">u</text><text transform="translate(189.32,541.47) scale(0.613,1)" font-size="26.33">)</text><text transform="translate(196.18,540.76) scale(1.110,1)" font-size="18.40">=</text><path d="M211.4 534.6H281.5" stroke="#111" stroke-width="1.0"/><text transform="translate(212.06,516.16) scale(1.212,1)" font-size="22.09">∑</text><text transform="translate(231.26,516.16) scale(1.212,1)" font-size="22.09">∑</text><text x="221.0" y="498.8" font-size="9.6" font-style="italic" text-anchor="middle">m</text><text x="240.2" y="498.8" font-size="9.6" font-style="italic" text-anchor="middle">n</text><text x="221.2" y="531.4" font-size="9.4" text-anchor="middle"><tspan font-style="italic">i</tspan>=1</text><text x="240.4" y="531.4" font-size="9.4" text-anchor="middle"><tspan font-style="italic">j</tspan>=1</text><text x="250.4" y="515.8" font-size="16.5" font-style="italic">u</text><text x="259.8" y="510.2" font-size="10.2" font-style="italic">k</text><text x="259.2" y="520.4" font-size="9.6" font-style="italic">ij</text><text x="264.8" y="515.8" font-size="16.5" font-style="italic">u</text><text x="274.4" y="510.0" font-size="10.2">*</text><text x="273.8" y="520.4" font-size="9.6" font-style="italic">ij</text><path d="M213.8 564.7L216.0 563.1L219.4 581.8L223.6 537.3H279.9" fill="none" stroke="#111" stroke-width="0.9" stroke-linejoin="miter"/><path d="M216.0 563.1L219.4 581.8" stroke="#111" stroke-width="1.8" fill="none"/><text transform="translate(224.46,564.06) scale(1.212,1)" font-size="22.09">∑</text><text transform="translate(243.66,564.06) scale(1.212,1)" font-size="22.09">∑</text><text x="233.6" y="547.4" font-size="9.6" font-style="italic" text-anchor="middle">m</text><text x="252.8" y="547.4" font-size="9.6" font-style="italic" text-anchor="middle">n</text><text x="233.8" y="579.6" font-size="9.4" text-anchor="middle"><tspan font-style="italic">i</tspan>=1</text><text x="253.0" y="579.6" font-size="9.4" text-anchor="middle"><tspan font-style="italic">j</tspan>=1</text><text x="262.8" y="563.3" font-size="16.5" font-style="italic">u</text><text x="272.8" y="557.4" font-size="9.8">2</text><text x="271.2" y="568.4" font-size="9.6" font-style="italic">ij</text>
<text x="119.9" y="639.7" font-size="16.5">Pr</text><text x="139.6" y="639.7" font-size="16.5" font-style="italic">j</text><text x="145.2" y="645.8" font-size="10.2" font-style="italic">X</text><text x="152.0" y="641.6" font-size="7.4">*</text><text x="151.8" y="648.6" font-size="7.4" font-style="italic">v</text><text transform="translate(160.15,642.47) scale(0.613,1)" font-size="26.33">(</text><text x="166.4" y="640.4" font-size="18.6" font-style="italic" font-weight="700">X</text><text x="181.4" y="633.4" font-size="10.2" font-style="italic">k</text><text x="180.4" y="644.2" font-size="9.6" font-style="italic">v</text><text transform="translate(189.32,642.47) scale(0.613,1)" font-size="26.33">)</text><text transform="translate(196.18,641.76) scale(1.110,1)" font-size="18.40">=</text><path d="M211.4 635.6H279.8" stroke="#111" stroke-width="1.0"/><text transform="translate(212.06,617.16) scale(1.212,1)" font-size="22.09">∑</text><text transform="translate(231.26,617.16) scale(1.212,1)" font-size="22.09">∑</text><text x="221.0" y="599.8" font-size="9.6" font-style="italic" text-anchor="middle">m</text><text x="240.2" y="599.8" font-size="9.6" font-style="italic" text-anchor="middle">n</text><text x="221.2" y="632.4" font-size="9.4" text-anchor="middle"><tspan font-style="italic">i</tspan>=1</text><text x="240.4" y="632.4" font-size="9.4" text-anchor="middle"><tspan font-style="italic">j</tspan>=1</text><text x="250.8" y="616.8" font-size="16.5" font-style="italic">v</text><text x="259.8" y="611.2" font-size="10.2" font-style="italic">k</text><text x="259.2" y="621.4" font-size="9.6" font-style="italic">ij</text><text x="265.2" y="616.8" font-size="16.5" font-style="italic">v</text><text x="274.4" y="611.0" font-size="10.2">*</text><text x="273.8" y="621.4" font-size="9.6" font-style="italic">ij</text><path d="M213.8 665.7L216.0 664.1L219.4 682.8L223.6 638.3H278.2" fill="none" stroke="#111" stroke-width="0.9" stroke-linejoin="miter"/><path d="M216.0 664.1L219.4 682.8" stroke="#111" stroke-width="1.8" fill="none"/><text transform="translate(224.46,665.06) scale(1.212,1)" font-size="22.09">∑</text><text transform="translate(243.66,665.06) scale(1.212,1)" font-size="22.09">∑</text><text x="233.6" y="648.4" font-size="9.6" font-style="italic" text-anchor="middle">m</text><text x="252.8" y="648.4" font-size="9.6" font-style="italic" text-anchor="middle">n</text><text x="233.8" y="680.6" font-size="9.4" text-anchor="middle"><tspan font-style="italic">i</tspan>=1</text><text x="253.0" y="680.6" font-size="9.4" text-anchor="middle"><tspan font-style="italic">j</tspan>=1</text><text x="263.2" y="664.3" font-size="16.5" font-style="italic">v</text><text x="272.8" y="658.4" font-size="9.8">2</text><text x="271.2" y="669.4" font-size="9.6" font-style="italic">ij</text>
<text x="168.0" y="700.0" font-size="10.8">Pr</text><text x="181.4" y="700.0" font-size="12.2" font-style="italic">j</text><text x="185.2" y="704.6" font-size="7.2" font-style="italic">X</text><text x="190.0" y="702.2" font-size="5.4">*</text><text x="189.8" y="706.8" font-size="5.4" font-style="italic">u</text><text transform="translate(195.54,702.29) scale(0.731,1)" font-size="15.78">(</text><text x="200.2" y="700.6" font-size="12.4" font-style="italic" font-weight="700">X</text><text x="210.2" y="696.4" font-size="7.2" font-style="italic">k</text><text x="209.6" y="703.4" font-size="7" font-style="italic">v</text><text transform="translate(217.65,702.29) scale(0.731,1)" font-size="15.78">)</text>
<text x="235.6" y="700.0" font-size="10.8">Pr</text><text x="249.0" y="700.0" font-size="12.2" font-style="italic">j</text><text x="252.8" y="704.6" font-size="7.2" font-style="italic">X</text><text x="257.6" y="702.2" font-size="5.4">*</text><text x="257.4" y="706.8" font-size="5.4" font-style="italic">v</text><text transform="translate(263.14,702.29) scale(0.731,1)" font-size="15.78">(</text><text x="267.8" y="700.6" font-size="12.4" font-style="italic" font-weight="700">X</text><text x="277.8" y="696.4" font-size="7.2" font-style="italic">k</text><text x="277.2" y="703.4" font-size="7" font-style="italic">v</text><text transform="translate(285.25,702.29) scale(0.731,1)" font-size="15.78">)</text>
<text x="119.8" y="850.6" font-size="17.2" font-style="italic">E</text><text x="129.6" y="854.0" font-size="12" font-style="italic">k</text><text x="136.6" y="850.6" font-size="17.2">(</text><text x="142.2" y="850.6" font-size="17.2" font-style="italic">θ</text><text x="151.6" y="850.6" font-size="17.2">)</text><text transform="translate(161.88,852.77) scale(1.268,1)" font-size="20.80">=</text><text x="177.8" y="850.6" font-size="17.2" font-style="italic">θ</text><text x="190.2" y="850.6" font-size="17.2" font-style="italic">Pr</text><text x="210.8" y="850.6" font-size="17.2" font-style="italic">j</text><text x="215.4" y="855.2" font-size="12" font-style="italic">x</text><text x="221.6" y="851.4" font-size="8.4">*</text><text x="221.4" y="859.0" font-size="8.4" font-style="italic">u</text><text x="232.2" y="850.6" font-size="17.2">(</text><text x="237.8" y="850.6" font-size="17.2" font-style="italic">x</text><text x="247.0" y="845.0" font-size="12" font-style="italic">k</text><text x="247.0" y="854.4" font-size="12" font-style="italic">u</text><text x="254.0" y="850.6" font-size="17.2">)</text><text x="263.51" y="853.07" font-size="21.70">+</text><text x="278.2" y="850.6" font-size="17.2">(</text><text x="284.2" y="850.6" font-size="17.2">1</text><text x="296.29" y="853.21" font-size="22.13">−</text><text x="311.0" y="850.6" font-size="17.2" font-style="italic">θ</text><text x="320.2" y="850.6" font-size="17.2">)</text><text x="330.2" y="850.6" font-size="17.2" font-style="italic">Pr</text><text x="350.6" y="850.6" font-size="17.2" font-style="italic">j</text><text x="355.4" y="855.2" font-size="12" font-style="italic">x</text><text x="361.6" y="851.4" font-size="8.4">*</text><text x="361.4" y="859.0" font-size="8.4" font-style="italic">v</text><text x="371.6" y="850.6" font-size="17.2">(</text><text x="377.2" y="850.6" font-size="17.2" font-style="italic">x</text><text x="386.6" y="845.0" font-size="12" font-style="italic">k</text><text x="386.6" y="854.4" font-size="12" font-style="italic">v</text><text x="393.4" y="850.6" font-size="17.2">)</text>
<text x="120.8" y="1090.8" font-size="16.2" font-style="italic">λ</text><text x="129.2" y="1094.8" font-size="9.6" font-style="italic">k</text><text transform="translate(138.20,1092.50) scale(1.136,1)" font-size="17.60">=</text><path d="M152.1 1086.6H192.2" stroke="#111" stroke-width="1.0"/><text x="153.6" y="1081.2" font-size="16.2" font-style="italic">E</text><text x="164.2" y="1084.6" font-size="9.6" font-style="italic">k</text><text x="170.6" y="1081.2" font-size="16.2">(</text><text x="176.6" y="1081.2" font-size="16.2" font-style="italic">θ</text><text x="186.2" y="1081.2" font-size="16.2">)</text><text x="157.2" y="1103.5" font-size="16.2" font-style="italic">E</text><text x="167.4" y="1103.5" font-size="16.2">(</text><text x="173.4" y="1103.5" font-size="16.2" font-style="italic">θ</text><text x="183.0" y="1103.5" font-size="16.2">)</text><text x="208.0" y="1090.8" font-size="16.2">(</text><text x="213.4" y="1090.8" font-size="16.2" font-style="italic">k</text><text transform="translate(223.00,1092.50) scale(1.136,1)" font-size="17.60">=</text><text x="235.2" y="1090.8" font-size="16.2">1,</text><text x="248.8" y="1090.8" font-size="16.2">2,</text><text x="262.6" y="1093.6" font-size="16.2" textLength="17.6" lengthAdjust="spacingAndGlyphs">⋯</text><text x="281.0" y="1090.8" font-size="16.2">,</text><text x="285.4" y="1090.8" font-size="16.2" font-style="italic">t</text><text x="290.0" y="1090.8" font-size="16.2">)</text>
<text x="135.4" y="1167.9" font-size="14.6" font-style="italic">a</text><text x="142.4" y="1171.3" font-size="8.6" font-style="italic">j</text><text transform="translate(150.55,1169.29) scale(1.120,1)" font-size="15.20">=</text><text transform="translate(160.62,1167.43) scale(0.671,1)" font-size="21.78">(</text><text x="165.8" y="1167.9" font-size="14.6" font-style="italic">u</text><text x="173.4" y="1171.3" font-size="8.6" font-style="italic">j</text><text x="177.4" y="1167.9" font-size="14.6">,</text><text x="182.0" y="1167.9" font-size="14.6" font-style="italic">v</text><text x="189.6" y="1171.3" font-size="8.6" font-style="italic">j</text><text transform="translate(195.16,1167.43) scale(0.671,1)" font-size="21.78">)</text>
</svg>
<div class="l" style="left:486.5px;width:102.4px;top:486.2px;letter-spacing:-0.9px">糊加权算术平均</div>
<div class="l" style="left:600.4px;width:261.6px;top:486.4px;font-size:15.15px">(Intuitive Fuzzy Weighted Average, IFWA)</div>
<div class="l n" style="left:486.5px;top:510.4px;">算子为：</div>
<div class="l n" style="left:518.0px;top:608.8px;">式中 <span class="e" style="letter-spacing:-0.85px"><i>ω</i>=(<i>ω</i><sub>1</sub>,<i>ω</i><sub>2</sub>,<span class="d">···</span>,<i>ω<sub>n</sub></i>)<sup>T</sup></span></div>
<div class="l" style="left:654.4px;width:157.4px;top:608.8px;letter-spacing:-1.2px">为直觉模矩阵的权重向量</div>
<div class="l n" style="left:817.0px;top:608.8px;"><span class="e" style="letter-spacing:-0.9px"><i>ω</i><span style="font-size:12.6px;letter-spacing:-1.6px">∈</span>[0,1]</span></div>
<div class="l n" style="left:486.5px;top:633.0px;">且</div>
<div class="l" style="left:538.6px;width:323.4px;top:687.3px;">得到第 <span class="e">k</span> 个决策方案的直觉模糊决策矩阵，</div>
<div class="l" style="left:557.8px;width:304.2px;top:706.9px;">以及各个专家的权重后，再结合各位专家评</div>
<div class="l" style="left:486.5px;width:375.5px;top:731.0px;">判结果的权重，建立集合的直觉模糊矩阵。构造该矩阵</div>
<div class="l" style="left:486.5px;width:375.5px;top:755.6px;">时，可以使用 <span class="e">IFWA</span> 算子的方法进行计算，依次计算出</div>
<div class="l n" style="left:486.5px;top:780.2px;">矩阵中各元素的数值大小，其运算方法如下：</div>
<div class="l" style="left:518.0px;width:344.0px;top:878.3px;">通过所有元素的值可得到新的矩阵 <span class="e"><i>R</i><sup>(<i>k</i>)</sup></span>，将所有值</div>
<div class="l" style="left:486.5px;width:375.5px;top:902.4px;">进行归一化处理后可以得到所有属性的权重值，如下：</div>
<div class="l" style="left:518.2px;width:122.6px;top:1025.6px;">计算所有决策方案</div>
<div class="l n" style="left:734.6px;top:1025.6px;">的</div>
<div class="l" style="left:768.4px;width:93.6px;top:1025.6px;">，其计算方法</div>
<div class="l n" style="left:486.5px;top:1050.1px;">如下：</div>
<div class="num" style="right:84.0px;top:537.6px">（11）</div>
<div class="num" style="right:84.0px;top:591.2px">（12）</div>
<div class="num" style="right:84.0px;top:860.7px">（13）</div>
<div class="num" style="right:84.0px;top:1007.6px">（14）</div>
<div class="num" style="right:84.0px;top:1156.8px">（15）</div>
<svg width="950" height="1280" viewBox="0 0 950 1280" style="position:absolute;left:0;top:0;pointer-events:none" font-family="'Liberation Serif','DejaVu Serif','Noto Serif CJK SC',serif" fill="#000">
<text x="518.3" y="550.5" font-size="15" textLength="38.6" lengthAdjust="spacingAndGlyphs">IFWA</text><text x="560.4" y="550.5" font-size="15">:</text><text x="566.6" y="550.5" font-size="15.6" font-style="italic">Q</text><text x="579.2" y="554.1" font-size="7.8" font-style="italic">A</text><text transform="translate(584.12,549.90) scale(0.936,1)" font-size="26.09">→</text><text x="607.0" y="550.5" font-size="15.6" font-style="italic">Q</text><text x="518.3" y="575.2" font-size="15" textLength="38.6" lengthAdjust="spacingAndGlyphs">IFWA</text><text x="558.4" y="579.4" font-size="9.4" font-style="italic">ω</text><text transform="translate(568.84,577.23) scale(1.140,1)" font-size="16.80">=</text><text transform="translate(581.40,577.51) scale(0.734,1)" font-size="20.44">(</text><text x="587.8" y="575.2" font-size="15.6" font-style="italic">a</text><text x="596.0" y="578.8" font-size="8.8">1</text><text x="601.0" y="575.2" font-size="15">,</text><text x="607.0" y="575.2" font-size="15.6" font-style="italic">a</text><text x="615.0" y="578.8" font-size="8.8">2</text><text x="620.6" y="575.2" font-size="15">,</text><text x="625.9" y="578.0" font-size="15" textLength="13.8" lengthAdjust="spacingAndGlyphs">⋯</text><text x="641.2" y="575.2" font-size="15">,</text><text x="647.4" y="575.2" font-size="15.6" font-style="italic">a</text><text x="656.2" y="578.8" font-size="8.8" font-style="italic">n</text><text transform="translate(663.55,577.51) scale(0.734,1)" font-size="20.44">)</text><text transform="translate(569.44,602.63) scale(1.140,1)" font-size="16.80">=</text><text x="582.4" y="600.8" font-size="16.4" font-style="italic">ω</text><text x="593.4" y="604.4" font-size="8.8">1</text><text x="597.8" y="600.8" font-size="15.6" font-style="italic">a</text><text x="605.6" y="604.4" font-size="8.8">1</text><text x="611.8" y="602.2" font-size="18" textLength="13.6" lengthAdjust="spacingAndGlyphs" font-family="'DejaVu Sans','DejaVu Serif',sans-serif">⊕</text><text x="628.4" y="600.8" font-size="16.4" font-style="italic">ω</text><text x="639.4" y="604.4" font-size="8.8">2</text><text x="644.8" y="600.8" font-size="15.6" font-style="italic">a</text><text x="652.8" y="604.4" font-size="8.8">2</text><text x="659.2" y="602.2" font-size="18" textLength="13.6" lengthAdjust="spacingAndGlyphs" font-family="'DejaVu Sans','DejaVu Serif',sans-serif">⊕</text><text x="673.8" y="603.6" font-size="15" textLength="15.0" lengthAdjust="spacingAndGlyphs">⋯</text><text x="690.8" y="602.2" font-size="18" textLength="13.6" lengthAdjust="spacingAndGlyphs" font-family="'DejaVu Sans','DejaVu Serif',sans-serif">⊕</text><text x="707.8" y="600.8" font-size="16.4" font-style="italic">ω</text><text x="718.8" y="604.4" font-size="8.8" font-style="italic">n</text><text x="724.2" y="600.8" font-size="15.6" font-style="italic">a</text><text x="732.2" y="604.4" font-size="8.8" font-style="italic">n</text>
<text transform="translate(485.00,690.38) scale(1.169,1)" font-size="20.58">∑</text><text x="492.8" y="674.8" font-size="7.4" font-style="italic" text-anchor="middle">n</text><text x="494.0" y="703.6" font-size="8" text-anchor="middle"><tspan font-style="italic">j</tspan>=1</text><text x="502.4" y="689.7" font-size="16" font-style="italic">ω</text><text x="514.2" y="693.6" font-size="8.6" font-style="italic">j</text><text transform="translate(520.93,691.56) scale(1.090,1)" font-size="16.00">=</text><text x="531.4" y="689.7" font-size="15.4">1</text>
<text x="486.0" y="722.2" font-size="14.6" font-style="italic" font-weight="700">R</text><text x="497.0" y="715.8" font-size="8.2">(</text><text x="499.6" y="715.8" font-size="8.2" font-style="italic">k</text><text x="503.2" y="715.8" font-size="8.2">)</text><text transform="translate(510.41,723.22) scale(1.093,1)" font-size="14.40">=</text><text transform="translate(521.68,723.15) scale(0.795,1)" font-size="16.44">(</text><text x="526.8" y="722.4" font-size="14.4" font-style="italic">r</text><text x="531.4" y="725.2" font-size="8.2" font-style="italic">k</text><text transform="translate(536.21,723.15) scale(0.795,1)" font-size="16.44">)</text><text x="541.6" y="726.6" font-size="7.8" font-style="italic">m</text><text x="547.4" y="726.6" font-size="7.8">×</text><text x="551.8" y="726.6" font-size="7.8" font-style="italic">n</text>
<text x="517.6" y="822.5" font-size="15.6" font-style="italic">r</text><text x="522.4" y="826.5" font-size="8.8" font-style="italic">ij</text><text transform="translate(531.43,824.56) scale(1.090,1)" font-size="16.00">=</text><text x="544.2" y="822.5" font-size="15" textLength="36.6" lengthAdjust="spacingAndGlyphs">IFWA</text><text x="582.0" y="826.9" font-size="8.8" font-style="italic">λ</text><text transform="translate(589.67,824.33) scale(0.710,1)" font-size="22.22">(</text><text x="596.4" y="822.5" font-size="15.6" font-style="italic">r</text><text x="600.8" y="826.5" font-size="8.8" font-style="italic">ij</text><text x="603.0" y="816.5" font-size="8.8">(</text><text x="605.9" y="816.5" font-size="8.8">1</text><text x="610.3" y="816.5" font-size="8.8">)</text><text x="616.0" y="822.5" font-size="15">,</text><text x="620.6" y="822.5" font-size="15.6" font-style="italic">r</text><text x="625.0" y="826.5" font-size="8.8" font-style="italic">ij</text><text x="627.4" y="816.5" font-size="8.8">(</text><text x="630.3" y="816.5" font-size="8.8">2</text><text x="634.7" y="816.5" font-size="8.8">)</text><text x="640.6" y="822.5" font-size="15">,</text><text x="645.2" y="825.3" font-size="15" textLength="12.8" lengthAdjust="spacingAndGlyphs">⋯</text><text x="658.8" y="822.5" font-size="15">,</text><text x="664.6" y="822.5" font-size="15.6" font-style="italic">r</text><text x="669.0" y="826.5" font-size="8.8" font-style="italic">ij</text><text x="671.4" y="816.5" font-size="8.8">(</text><text x="674.3" y="816.5" font-size="8.8" font-style="italic">t</text><text x="677.3" y="816.5" font-size="8.8">)</text><text transform="translate(682.83,824.33) scale(0.710,1)" font-size="22.22">)</text><text transform="translate(531.43,863.36) scale(1.090,1)" font-size="16.00">=</text><text transform="translate(543.26,868.15) scale(0.428,1)" font-size="43.11">(</text><text x="550.4" y="861.1" font-size="15">1</text><text x="557.73" y="863.84" font-size="17.45">−</text><text transform="translate(569.86,862.36) scale(1.014,1)" font-size="22.09">∏</text><text x="579.2" y="845.6" font-size="8" font-style="italic" text-anchor="middle">t</text><text x="579.4" y="876.3" font-size="8" text-anchor="middle"><tspan font-style="italic">k</tspan>=1</text><text transform="translate(588.95,864.29) scale(0.720,1)" font-size="22.44">(</text><text x="594.8" y="861.1" font-size="15">1</text><text x="601.47" y="863.56" font-size="16.60">−</text><text x="613.0" y="861.1" font-size="15.6" font-style="italic">u</text><text x="621.8" y="865.1" font-size="8.8" font-style="italic">ij</text><text x="621.8" y="855.3" font-size="8.8">(</text><text x="624.8" y="855.3" font-size="8.8" font-style="italic">k</text><text x="628.8" y="855.3" font-size="8.8">)</text><text transform="translate(636.12,864.29) scale(0.720,1)" font-size="22.44">)</text><text x="642.6" y="851.1" font-size="8.8" font-style="italic">λ</text><text x="647.8" y="853.1" font-size="6.4" font-style="italic">k</text><text x="652.6" y="861.1" font-size="15">,</text><text transform="translate(657.26,862.36) scale(1.014,1)" font-size="22.09">∏</text><text x="666.4" y="845.6" font-size="8" font-style="italic" text-anchor="middle">t</text><text x="666.8" y="876.3" font-size="8" text-anchor="middle"><tspan font-style="italic">k</tspan>=1</text><text transform="translate(676.75,864.29) scale(0.720,1)" font-size="22.44">(</text><text x="682.0" y="861.1" font-size="15.6" font-style="italic">v</text><text x="689.8" y="865.1" font-size="8.8" font-style="italic">ij</text><text x="690.6" y="855.3" font-size="8.8">(</text><text x="693.6" y="855.3" font-size="8.8" font-style="italic">k</text><text x="697.6" y="855.3" font-size="8.8">)</text><text transform="translate(704.72,864.29) scale(0.720,1)" font-size="22.44">)</text><text x="710.2" y="851.1" font-size="8.8" font-style="italic">λ</text><text x="715.4" y="853.1" font-size="6.4" font-style="italic">k</text><text transform="translate(720.85,868.15) scale(0.428,1)" font-size="43.11">)</text>
<text x="518.0" y="964.3" font-size="15.8" font-style="italic">w</text><text x="528.2" y="968.4" font-size="8.8" font-style="italic">j</text><text transform="translate(535.71,966.56) scale(1.117,1)" font-size="16.00">=</text><path d="M548.5 961.4H724.3" stroke="#111" stroke-width="0.9"/><text x="726.4" y="966.2" font-size="15.4">,</text><text transform="translate(558.19,946.06) scale(1.121,1)" font-size="21.63">∑</text><text transform="translate(575.79,946.06) scale(1.121,1)" font-size="21.63">∑</text><text x="566.2" y="930.2" font-size="8.8" font-style="italic" text-anchor="middle">m</text><text x="583.8" y="930.2" font-size="8.8" font-style="italic" text-anchor="middle">m</text><text x="566.6" y="960.0" font-size="8.6" text-anchor="middle"><tspan font-style="italic">i</tspan>=1</text><text x="584.2" y="960.0" font-size="8.6" text-anchor="middle"><tspan font-style="italic">k</tspan>=1</text><text transform="translate(592.78,947.94) scale(0.592,1)" font-size="26.00">(</text><text transform="translate(597.65,947.30) scale(0.964,1)" font-size="23.33">|</text><text x="602.0" y="945.8" font-size="15.8" font-style="italic">u</text><text x="610.0" y="950.0" font-size="8.8" font-style="italic">ij</text><text x="618.93" y="948.24" font-size="17.45">−</text><text x="629.8" y="945.8" font-size="15.8" font-style="italic">u</text><text x="637.8" y="950.0" font-size="8.8" font-style="italic">kj</text><text transform="translate(644.55,947.30) scale(0.964,1)" font-size="23.33">|</text><text x="649.29" y="948.53" font-size="18.30">+</text><text transform="translate(660.45,947.30) scale(0.964,1)" font-size="23.33">|</text><text x="665.4" y="945.8" font-size="15.8" font-style="italic">v</text><text x="672.8" y="950.0" font-size="8.8" font-style="italic">ij</text><text x="682.53" y="948.24" font-size="17.45">−</text><text x="693.2" y="945.8" font-size="15.8" font-style="italic">v</text><text x="700.6" y="950.0" font-size="8.8" font-style="italic">kj</text><text transform="translate(706.35,947.30) scale(0.964,1)" font-size="23.33">|</text><text transform="translate(710.54,947.94) scale(0.592,1)" font-size="26.00">)</text><text transform="translate(549.39,986.16) scale(1.145,1)" font-size="21.16">∑</text><text transform="translate(566.79,986.16) scale(1.145,1)" font-size="21.16">∑</text><text transform="translate(584.19,986.16) scale(1.145,1)" font-size="21.16">∑</text><text x="557.6" y="970.4" font-size="8.8" font-style="italic" text-anchor="middle">n</text><text x="575.3" y="970.4" font-size="8.8" font-style="italic" text-anchor="middle">m</text><text x="592.6" y="970.4" font-size="8.8" font-style="italic" text-anchor="middle">m</text><text x="558.0" y="1000.0" font-size="8.6" text-anchor="middle"><tspan font-style="italic">j</tspan>=1</text><text x="575.6" y="1000.0" font-size="8.6" text-anchor="middle"><tspan font-style="italic">i</tspan>=1</text><text x="593.0" y="1000.0" font-size="8.6" text-anchor="middle"><tspan font-style="italic">k</tspan>=1</text><text transform="translate(601.98,987.29) scale(0.587,1)" font-size="26.22">(</text><text transform="translate(606.85,986.65) scale(0.955,1)" font-size="23.56">|</text><text x="611.2" y="985.2" font-size="15.8" font-style="italic">u</text><text x="619.2" y="989.4" font-size="8.8" font-style="italic">ij</text><text x="628.13" y="987.64" font-size="17.45">−</text><text x="639.0" y="985.2" font-size="15.8" font-style="italic">u</text><text x="647.0" y="989.4" font-size="8.8" font-style="italic">kj</text><text transform="translate(653.75,986.65) scale(0.955,1)" font-size="23.56">|</text><text x="658.49" y="987.93" font-size="18.30">+</text><text transform="translate(669.65,986.65) scale(0.955,1)" font-size="23.56">|</text><text x="674.6" y="985.2" font-size="15.8" font-style="italic">v</text><text x="682.0" y="989.4" font-size="8.8" font-style="italic">ij</text><text x="691.73" y="987.64" font-size="17.45">−</text><text x="702.4" y="985.2" font-size="15.8" font-style="italic">v</text><text x="709.8" y="989.4" font-size="8.8" font-style="italic">kj</text><text transform="translate(715.55,986.65) scale(0.955,1)" font-size="23.56">|</text><text transform="translate(719.74,987.29) scale(0.587,1)" font-size="26.22">)</text><text x="528.6" y="1019.8" font-size="15.8" font-style="italic">j</text><text transform="translate(535.71,1021.56) scale(1.117,1)" font-size="16.00">=</text><text x="547.6" y="1019.8" font-size="15.4">1,</text><text x="558.4" y="1019.8" font-size="15.4">2,</text><text x="571.2" y="1022.6" font-size="15.4" textLength="12.4" lengthAdjust="spacingAndGlyphs">⋯</text><text x="585.4" y="1019.8" font-size="15.4">,</text><text x="590.6" y="1019.8" font-size="15.8" font-style="italic">n</text>
<text x="642.4" y="1041.5" font-size="15" font-style="italic">A</text><text x="652.6" y="1045.1" font-size="8.6" font-style="italic">i</text><text x="656.8" y="1041.5" font-size="15">(</text><text x="661.4" y="1041.5" font-size="15" font-style="italic">i</text><text transform="translate(667.05,1042.99) scale(1.120,1)" font-size="15.20">=</text><text x="677.2" y="1041.5" font-size="15">1,</text><text x="688.2" y="1041.5" font-size="15">2,</text><text x="699.4" y="1041.5" font-size="15" textLength="11.6" lengthAdjust="spacingAndGlyphs">…</text><text x="712.4" y="1041.5" font-size="15">,</text><text x="718.2" y="1041.5" font-size="15" font-style="italic">m</text><text x="730.4" y="1041.5" font-size="15">)</text><text x="754.2" y="1041.5" font-size="15.4" font-style="italic">r</text><text x="760.8" y="1045.3" font-size="8.6" font-style="italic">ij</text>
<text x="517.6" y="1092.2" font-size="15.6" font-style="italic">r</text><text x="522.4" y="1096.2" font-size="8.8" font-style="italic">ij</text><text transform="translate(531.43,1094.36) scale(1.090,1)" font-size="16.00">=</text><text transform="translate(542.78,1093.85) scale(0.778,1)" font-size="19.78">(</text><text x="548.8" y="1092.2" font-size="15.6" font-style="italic">u</text><text x="557.0" y="1096.2" font-size="8.8" font-style="italic">i</text><text x="560.8" y="1092.2" font-size="15">,</text><text x="565.4" y="1092.2" font-size="15.6" font-style="italic">v</text><text x="573.4" y="1096.2" font-size="8.8" font-style="italic">i</text><text transform="translate(578.14,1093.85) scale(0.778,1)" font-size="19.78">)</text><text transform="translate(531.43,1120.26) scale(1.090,1)" font-size="16.00">=</text><text x="544.2" y="1118.4" font-size="15" textLength="36.6" lengthAdjust="spacingAndGlyphs">IFWA</text><text x="582.0" y="1122.6" font-size="8.8" font-style="italic">w</text><text transform="translate(590.28,1119.79) scale(0.805,1)" font-size="19.11">(</text><text x="596.4" y="1118.4" font-size="15.6" font-style="italic">r</text><text x="601.0" y="1122.4" font-size="8.8" font-style="italic">i</text><text x="603.6" y="1122.4" font-size="8.8">1</text><text x="608.4" y="1118.4" font-size="15">,</text><text x="613.4" y="1118.4" font-size="15.6" font-style="italic">r</text><text x="618.0" y="1122.4" font-size="8.8" font-style="italic">i</text><text x="620.8" y="1122.4" font-size="8.8">2</text><text x="626.8" y="1118.4" font-size="15">,</text><text x="631.8" y="1121.2" font-size="15" textLength="12.8" lengthAdjust="spacingAndGlyphs">⋯</text><text x="645.6" y="1118.4" font-size="15">,</text><text x="651.8" y="1118.4" font-size="15.6" font-style="italic">r</text><text x="656.4" y="1122.4" font-size="8.8" font-style="italic">in</text><text transform="translate(665.94,1119.79) scale(0.805,1)" font-size="19.11">)</text><text transform="translate(531.43,1157.36) scale(1.090,1)" font-size="16.00">=</text><text transform="translate(543.26,1162.54) scale(0.401,1)" font-size="46.00">(</text><text x="550.4" y="1155.3" font-size="15">1</text><text x="557.73" y="1157.84" font-size="17.45">−</text><text transform="translate(569.86,1157.11) scale(1.047,1)" font-size="21.40">∏</text><text x="578.8" y="1140.6" font-size="8" font-style="italic" text-anchor="middle">n</text><text x="579.2" y="1170.4" font-size="8" text-anchor="middle"><tspan font-style="italic">j</tspan>=1</text><text transform="translate(588.95,1158.78) scale(0.734,1)" font-size="22.00">(</text><text x="594.8" y="1155.3" font-size="15">1</text><text x="601.47" y="1157.56" font-size="16.60">−</text><text x="613.0" y="1155.3" font-size="15.6" font-style="italic">u</text><text x="621.6" y="1159.3" font-size="8.8" font-style="italic">ij</text><text transform="translate(628.52,1158.78) scale(0.734,1)" font-size="22.00">)</text><text x="634.4" y="1145.9" font-size="8.8" font-style="italic">w</text><text x="641.4" y="1147.9" font-size="6.4" font-style="italic">j</text><text x="645.0" y="1155.3" font-size="15">,</text><text transform="translate(649.66,1157.11) scale(1.047,1)" font-size="21.40">∏</text><text x="658.6" y="1140.6" font-size="8" font-style="italic" text-anchor="middle">n</text><text x="659.0" y="1170.4" font-size="8" text-anchor="middle"><tspan font-style="italic">j</tspan>=1</text><text x="670.2" y="1155.3" font-size="15.6" font-style="italic">v</text><text x="677.2" y="1159.3" font-size="8.8" font-style="italic">ij</text><text x="677.2" y="1148.1" font-size="8.8" font-style="italic">w</text><text x="684.0" y="1150.1" font-size="6.4" font-style="italic">j</text><text transform="translate(688.85,1162.54) scale(0.401,1)" font-size="46.00">)</text>
</svg>

<div class="a hs" style="left:88px;top:1199px;font-size:16.4px;line-height:22px;color:#111">204</div>
<div class="a" id="foot" style="left:30.6px;top:1232.8px;font-size:16.55px;line-height:22px;color:#a9a9a9;width:738px;text-align:justify;text-align-last:justify">(C)1994-2023 China Academic Journal Electronic Publishing House. All rights reserved.&nbsp;&nbsp;&nbsp; http://www.cnki.net</div>

</body></html>
